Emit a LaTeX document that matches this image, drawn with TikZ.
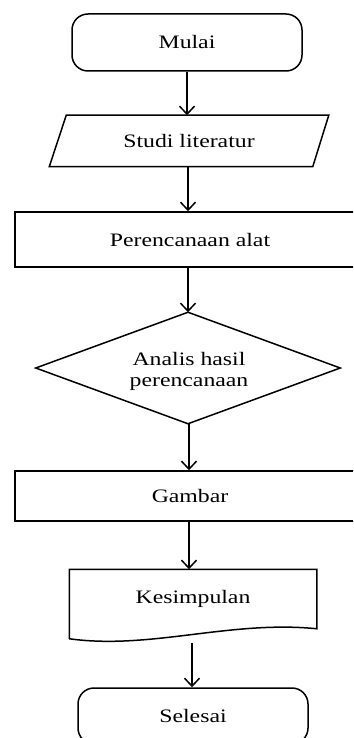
\documentclass[tikz,border=0pt]{standalone}
\usepackage{fontspec}
\setmainfont[FakeStretch=1.25]{Liberation Serif}
\usetikzlibrary{arrows.meta}
\begin{document}
\begin{tikzpicture}[x=1pt,y=-1pt,
  line width=1.5pt,
  every node/.style={font=\fontsize{19}{22}\selectfont, inner sep=0pt, align=center},
  terminal/.style={draw, rounded corners=16pt, minimum width=230pt, minimum height=57pt},
  arr/.style={-{Straight Barb[length=8pt,width=15pt,line width=1.5pt]}, line width=1.6pt}
]
\useasboundingbox (0,0) rectangle (353,738);
\clip (0,0) rectangle (353,738);
% Mulai
\node[terminal] (mulai) at (187,42.5) {Mulai};
% Studi literatur (parallelogram)
\node[minimum width=278pt, minimum height=50pt] (studi) at (189,141) {Studi literatur};
\draw ([xshift=17pt]studi.north west) -- (studi.north east) -- ([xshift=-16pt]studi.south east) -- (studi.south west) -- cycle;
% Perencanaan alat
\node[draw, minimum width=350pt, minimum height=55pt] (perenc) at (190,239.5) {Perencanaan alat};
% Analis (diamond)
\node[minimum width=303pt, minimum height=110pt] (analis) at (188,368) {};
\draw (analis.north) -- (analis.east) -- (analis.south) -- (analis.west) -- cycle;
\node[align=center] (analistext) at (189,371) {Analis hasil\\[-1pt]perencanaan};
% Gambar
\node[draw, minimum width=350pt, minimum height=50pt] (gambar) at (190,496) {Gambar};
% Kesimpulan (document)
\node[minimum width=246pt, minimum height=58pt] (kes) at (193,599) {Kesimpulan};
\draw (kes.south west) ++(0,10) -- (kes.north west) -- (kes.north east) -- (kes.south east)
  .. controls (230,620) and (150,650) .. ([yshift=-10pt]kes.south west);
% Selesai
\node[terminal, minimum height=56pt] (selesai) at (193,716) {Selesai};
% Arrows
\draw[arr] (mulai.south) -- (mulai.south |- studi.north);
\draw[arr] ([xshift=-1pt]studi.south) -- ([xshift=-1pt]studi.south |- perenc.north);
\draw[arr] (analis.north |- perenc.south) -- (analis.north);
\draw[arr] ([xshift=1pt]analis.south) -- ([xshift=1pt]analis.south |- gambar.north);
\draw[arr] ([xshift=-1pt]gambar.south) -- ([xshift=-1pt]gambar.south |- kes.north);
\coordinate (kesout) at ([yshift=-14pt]kes.south);
\draw[arr] ([xshift=-1pt]kesout) -- ([xshift=-1pt]kesout |- selesai.north);
\end{tikzpicture}
\end{document}
